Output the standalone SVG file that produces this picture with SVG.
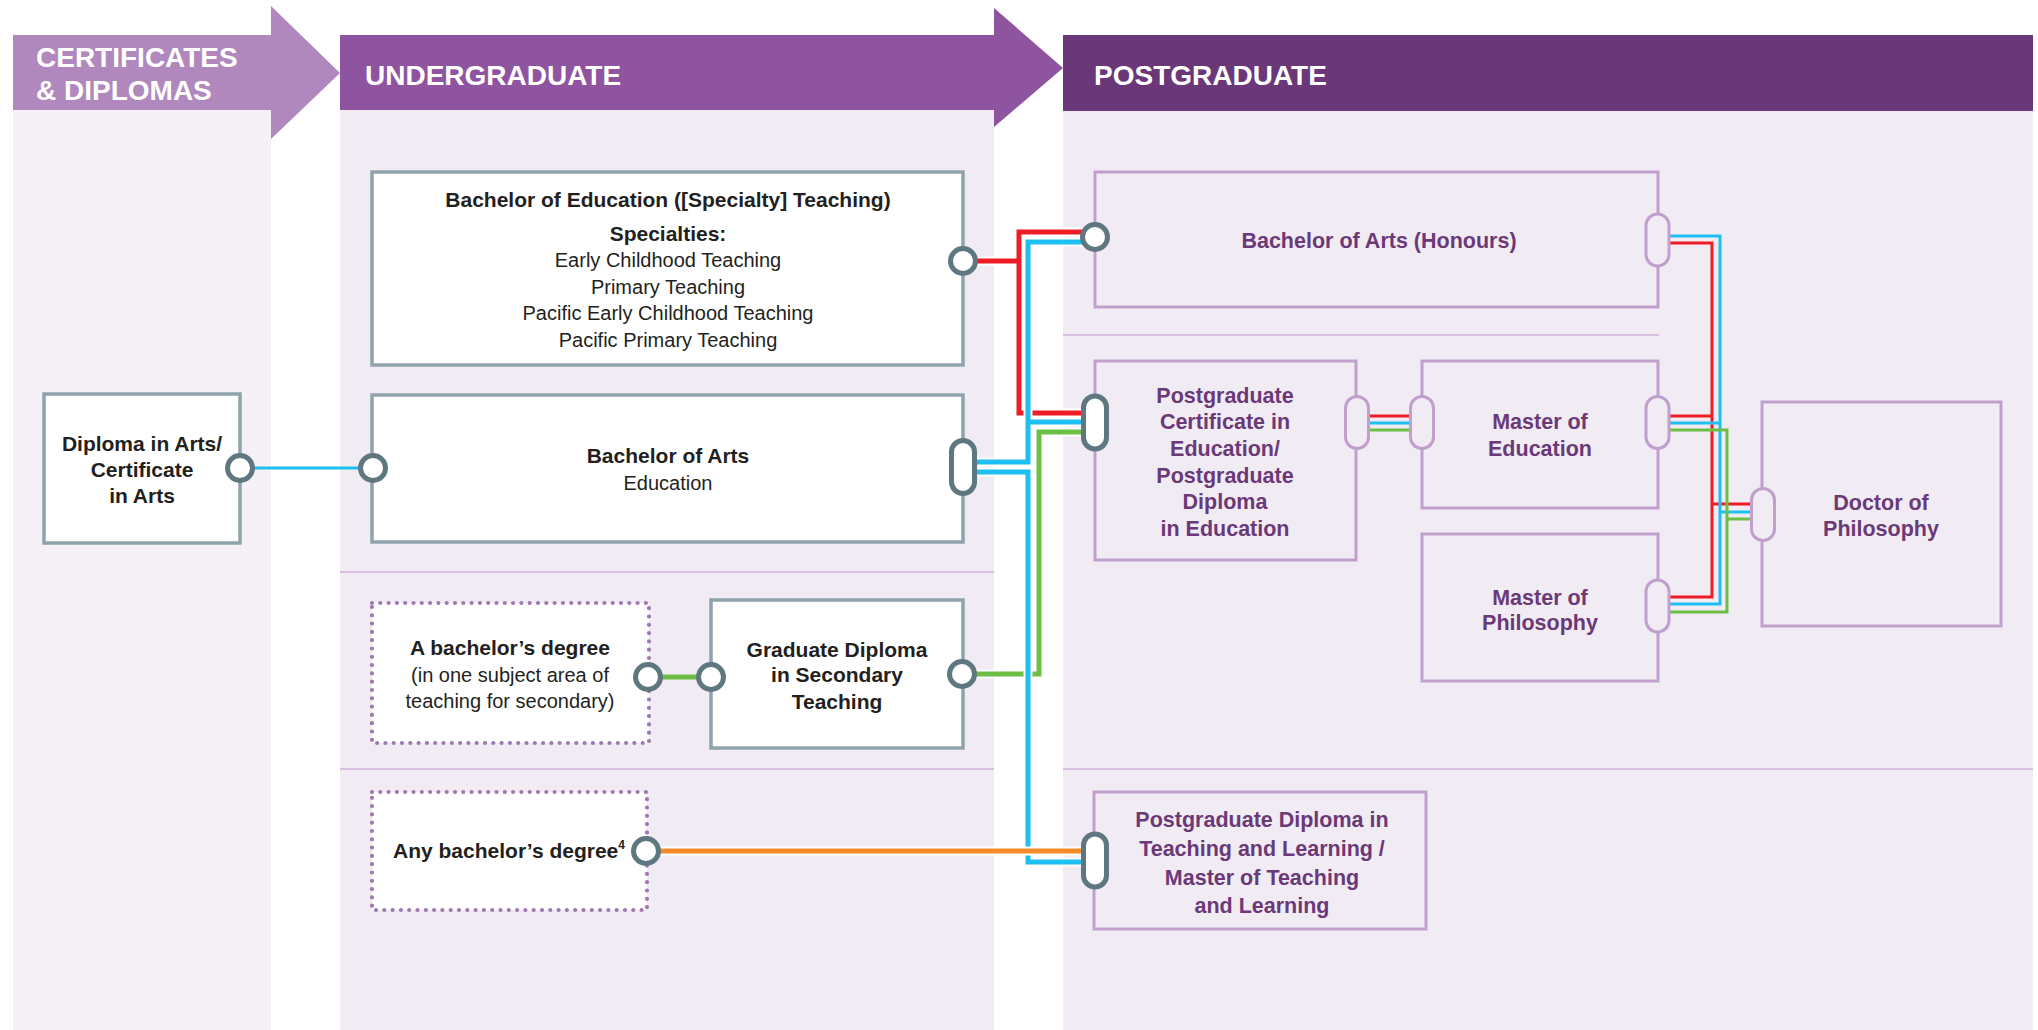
<svg xmlns="http://www.w3.org/2000/svg" width="2038" height="1030" viewBox="0 0 2038 1030">
<style>
text{font-family:"Liberation Sans",Arial,sans-serif}
.hd{fill:#fff;font-weight:bold;font-size:28px}
.ug{fill:#fff;stroke:#8fa3ac;stroke-width:3.5}
.dot{fill:#fff;stroke:#a078b2;stroke-width:4.2;stroke-dasharray:0 8.3;stroke-linecap:round}
.pg{fill:none;stroke:#c19fcd;stroke-width:3}
.port{fill:#fff;stroke:#5f7780;stroke-width:5}
.lport{fill:#f1ecf4;stroke:#c19fcd;stroke-width:3}
.t{fill:#231f20;font-size:20px;text-anchor:middle}
.b{font-weight:bold;font-size:21px}
.p{fill:#6b3878;font-size:21.5px;font-weight:bold;text-anchor:middle}
.div{stroke:#d8bfe0;stroke-width:2;fill:none}
.case{fill:none;stroke:#fff;stroke-width:9}
.ln{fill:none;stroke-width:5}
.thin{fill:none;stroke-width:3}
.r{stroke:#ee1c25}.bl{stroke:#1dc0f0}.g{stroke:#6dbe45}.o{stroke:#f58a2a}
</style>
<rect width="2038" height="1030" fill="#fff"/>
<g id="columns">
<rect x="13" y="110" width="258" height="920" fill="#f5f1f7"/>
<rect x="340" y="110" width="654" height="920" fill="#f1ecf4"/>
<rect x="1063" y="110" width="970" height="920" fill="#f1ecf4"/>
<path class="div" d="M340,572H994M340,769H994M1063,769H2033M1063,335H1659"/>
</g>
<g id="headers">
<polygon points="13,35 271,35 271,6 340,73 271,139 271,110 13,110" fill="#b088bd"/>
<text class="hd" x="36" y="67">CERTIFICATES</text>
<text class="hd" x="36" y="100">&amp; DIPLOMAS</text>
<polygon points="340,35 994,35 994,8 1063,68 994,127 994,110 340,110" fill="#8f54a0"/>
<text class="hd" x="365" y="85">UNDERGRADUATE</text>
<rect x="1063" y="35" width="970" height="76" fill="#6a3878"/>
<text class="hd" x="1094" y="85">POSTGRADUATE</text>
</g>
<g id="connectors">
<path class="thin bl" d="M240,468H373"/>
<path class="ln g" d="M649,677H711"/>
<path class="case" d="M963,261H1019M1095,232H1019V413H1095"/>
<path class="ln r" d="M963,261H1019M1095,232H1019V413H1095"/>
<path class="case" d="M963,674H1039V432H1095"/>
<path class="ln g" d="M963,674H1039V432H1095"/>
<path class="case" d="M977,462H1028V242H1095M1028,422H1095"/>
<path class="ln bl" d="M977,462H1028V242H1095M1028,422H1095"/>
<path class="case" d="M977,472H1028V862H1095"/>
<path class="ln bl" d="M977,472H1028V862H1095"/>
<path class="case" d="M646,851H1095"/>
<path class="ln o" d="M646,851H1095"/>
<path class="thin r" d="M1670,243H1712V597H1670M1370,416H1410M1670,416H1712M1712,504H1751"/>
<path class="thin bl" d="M1670,236H1720V604H1670M1370,423H1410M1670,423H1720M1720,512H1751"/>
<path class="thin g" d="M1670,430H1727V612H1670M1370,430H1410M1727,519H1751"/>
</g>
<g id="diploma-arts">
<rect class="ug" x="44" y="394" width="196" height="149"/>
<text class="t b" x="142" y="451">Diploma in Arts/</text>
<text class="t b" x="142" y="477">Certificate</text>
<text class="t b" x="142" y="503">in Arts</text>
<circle class="port" cx="240" cy="468" r="12.5"/>
</g>
<g id="bachelor-education">
<rect class="ug" x="372" y="172" width="591" height="193"/>
<text class="t b" x="668" y="207">Bachelor of Education ([Specialty] Teaching)</text>
<text class="t b" x="668" y="241">Specialties:</text>
<text class="t" x="668" y="267">Early Childhood Teaching</text>
<text class="t" x="668" y="294">Primary Teaching</text>
<text class="t" x="668" y="320">Pacific Early Childhood Teaching</text>
<text class="t" x="668" y="347">Pacific Primary Teaching</text>
<circle class="port" cx="963" cy="261" r="12.5"/>
</g>
<g id="bachelor-arts">
<rect class="ug" x="372" y="395" width="591" height="147"/>
<text class="t b" x="668" y="463">Bachelor of Arts</text>
<text class="t" x="668" y="490">Education</text>
<circle class="port" cx="373" cy="468" r="12.5"/>
<rect class="port" x="951.5" y="440.5" width="23" height="53" rx="11.5"/>
</g>
<g id="bachelors-degree-subject">
<rect class="dot" x="372" y="603" width="277" height="140"/>
<text class="t b" x="510" y="655">A bachelor’s degree</text>
<text class="t" x="510" y="682">(in one subject area of</text>
<text class="t" x="510" y="708">teaching for secondary)</text>
<circle class="port" cx="648" cy="677" r="12.5"/>
</g>
<g id="graduate-diploma-secondary">
<rect class="ug" x="711" y="600" width="252" height="148"/>
<text class="t b" x="837" y="657">Graduate Diploma</text>
<text class="t b" x="837" y="682">in Secondary</text>
<text class="t b" x="837" y="709">Teaching</text>
<circle class="port" cx="711" cy="677" r="12.5"/>
<circle class="port" cx="962" cy="674" r="12.5"/>
</g>
<g id="any-bachelors-degree">
<rect class="dot" x="372" y="792" width="275" height="118"/>
<text class="t b" x="509" y="858">Any bachelor’s degree<tspan font-size="12" dy="-9">4</tspan></text>
<circle class="port" cx="646" cy="851" r="12.5"/>
</g>
<g id="ba-honours">
<rect class="pg" x="1095" y="172" width="563" height="135"/>
<text class="p" x="1379" y="248">Bachelor of Arts (Honours)</text>
<circle class="port" cx="1095" cy="237" r="12.5"/>
<rect class="lport" x="1646" y="214" width="23" height="52" rx="11.5"/>
</g>
<g id="pg-cert-dip-education">
<rect class="pg" x="1095" y="361" width="261" height="199"/>
<text class="p" x="1225" y="403">Postgraduate</text>
<text class="p" x="1225" y="429">Certificate in</text>
<text class="p" x="1225" y="456">Education/</text>
<text class="p" x="1225" y="483">Postgraduate</text>
<text class="p" x="1225" y="509">Diploma</text>
<text class="p" x="1225" y="536">in Education</text>
<rect class="port" x="1083.5" y="396" width="23" height="53" rx="11.5"/>
<rect class="lport" x="1345.5" y="396.5" width="23" height="52" rx="11.5"/>
</g>
<g id="master-education">
<rect class="pg" x="1422" y="361" width="236" height="147"/>
<text class="p" x="1540" y="429">Master of</text>
<text class="p" x="1540" y="456">Education</text>
<rect class="lport" x="1410.5" y="396.5" width="23" height="52" rx="11.5"/>
<rect class="lport" x="1646" y="396.5" width="23" height="52" rx="11.5"/>
</g>
<g id="master-philosophy">
<rect class="pg" x="1422" y="534" width="236" height="147"/>
<text class="p" x="1540" y="605">Master of</text>
<text class="p" x="1540" y="630">Philosophy</text>
<rect class="lport" x="1646" y="580" width="23" height="52" rx="11.5"/>
</g>
<g id="doctor-philosophy">
<rect class="pg" x="1762" y="402" width="239" height="224"/>
<text class="p" x="1881" y="510">Doctor of</text>
<text class="p" x="1881" y="536">Philosophy</text>
<rect class="lport" x="1751.5" y="488.5" width="23" height="52" rx="11.5"/>
</g>
<g id="pg-dip-teaching-learning">
<rect class="pg" x="1094" y="792" width="332" height="137"/>
<text class="p" x="1262" y="827">Postgraduate Diploma in</text>
<text class="p" x="1262" y="856">Teaching and Learning /</text>
<text class="p" x="1262" y="885">Master of Teaching</text>
<text class="p" x="1262" y="913">and Learning</text>
<rect class="port" x="1083.5" y="834" width="23" height="53" rx="11.5"/>
</g>
</svg>
